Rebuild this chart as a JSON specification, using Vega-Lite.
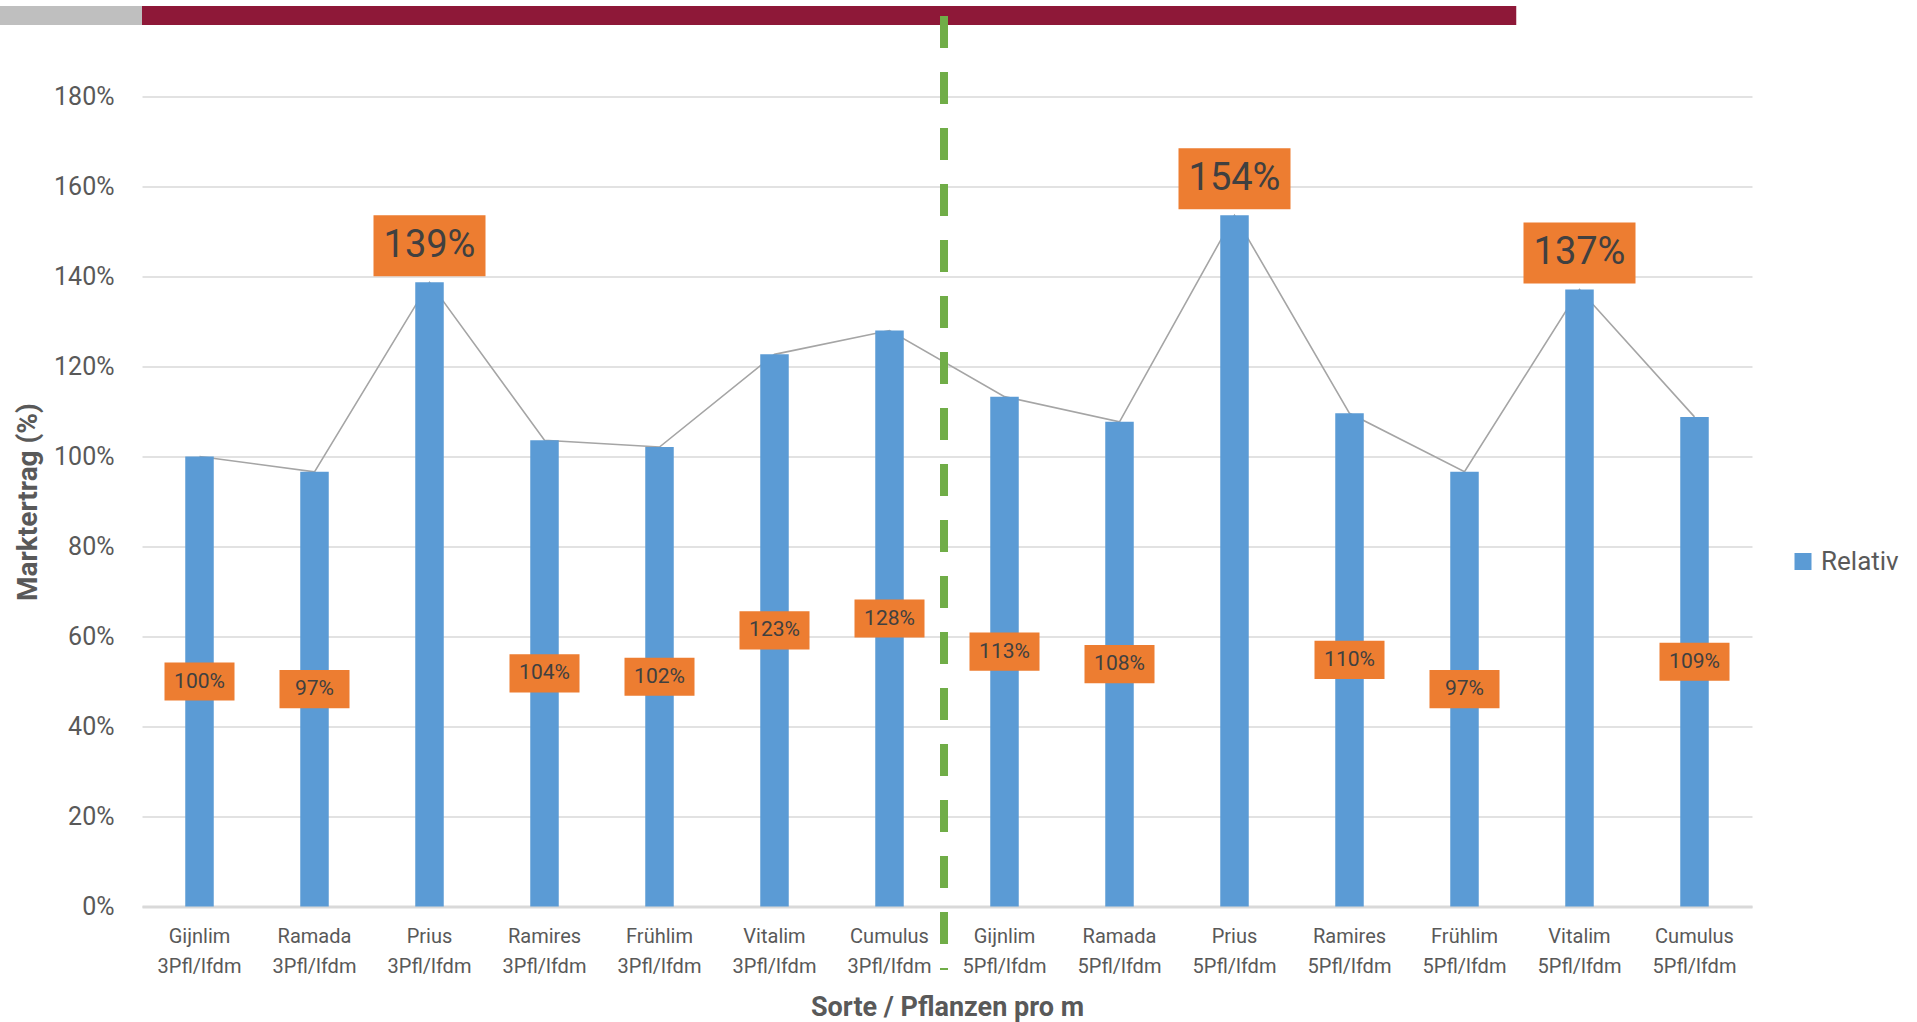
{
  "$schema": "https://vega.github.io/schema/vega-lite/v6.json",
  "width": 1610,
  "height": 810,
  "autosize": {"type": "none"},
  "padding": {"left": 142, "top": 96.5, "right": 165, "bottom": 115.5},
  "background": "white",
  "config": {
    "view": {"stroke": null},
    "font": "Roboto",
    "axis": {"labelFont": "Roboto", "titleFont": "Roboto", "labelColor": "#595959", "titleColor": "#595959"}
  },
  "data": {
    "values": [
      {"Kategorie": "Gijnlim 3Pfl/lfdm", "Relativ": 1.0},
      {"Kategorie": "Ramada 3Pfl/lfdm", "Relativ": 0.966},
      {"Kategorie": "Prius 3Pfl/lfdm", "Relativ": 1.387},
      {"Kategorie": "Ramires 3Pfl/lfdm", "Relativ": 1.036},
      {"Kategorie": "Frühlim 3Pfl/lfdm", "Relativ": 1.021},
      {"Kategorie": "Vitalim 3Pfl/lfdm", "Relativ": 1.227},
      {"Kategorie": "Cumulus 3Pfl/lfdm", "Relativ": 1.28},
      {"Kategorie": "Gijnlim 5Pfl/lfdm", "Relativ": 1.133},
      {"Kategorie": "Ramada 5Pfl/lfdm", "Relativ": 1.077},
      {"Kategorie": "Prius 5Pfl/lfdm", "Relativ": 1.536},
      {"Kategorie": "Ramires 5Pfl/lfdm", "Relativ": 1.096},
      {"Kategorie": "Frühlim 5Pfl/lfdm", "Relativ": 0.966},
      {"Kategorie": "Vitalim 5Pfl/lfdm", "Relativ": 1.371},
      {"Kategorie": "Cumulus 5Pfl/lfdm", "Relativ": 1.088}
    ]
  },
  "resolve": {"scale": {"x": "independent", "y": "independent"}},
  "layer": [
    {
      "mark": {"type": "line", "color": "#A5A5A5", "strokeWidth": 1.6},
      "encoding": {
        "x": {"field": "Kategorie", "type": "nominal", "sort": null, "axis": null},
        "y": {"field": "Relativ", "type": "quantitative", "scale": {"domain": [0, 1.8]}, "axis": null}
      }
    },
    {
      "mark": {"type": "bar", "width": 28.5},
      "encoding": {
        "x": {
          "field": "Kategorie", "type": "nominal", "sort": null,
          "axis": {
            "title": "Sorte / Pflanzen pro m",
            "labelExpr": "split(datum.label, ' ')",
            "labelAngle": 0,
            "labelFontSize": 20,
            "labelLineHeight": 29.5,
            "labelPadding": 20,
            "ticks": false,
            "domainColor": "#D9D9D9",
            "domainWidth": 3,
            "titleFontSize": 27,
            "titleFontWeight": "bold",
            "titlePadding": 18
          }
        },
        "y": {
          "field": "Relativ", "type": "quantitative",
          "scale": {"domain": [0, 1.8]},
          "axis": {
            "title": "Marktertrag (%)",
            "values": [0, 0.2, 0.4, 0.6, 0.8, 1.0, 1.2, 1.4, 1.6, 1.8],
            "format": ".0%",
            "domain": false,
            "ticks": false,
            "grid": true,
            "gridColor": "#D9D9D9",
            "gridWidth": 1.5,
            "labelFontSize": 25,
            "labelPadding": 28,
            "titleFontSize": 28,
            "titleFontWeight": "bold",
            "titlePadding": 11
          }
        },
        "color": {
          "datum": "Relativ",
          "scale": {"range": ["#5B9BD5"]},
          "legend": {
            "title": null,
            "orient": "none",
            "legendX": 1648,
            "legendY": 452,
            "symbolType": "square",
            "symbolSize": 289,
            "symbolStrokeWidth": 0,
            "labelFontSize": 26,
            "labelFont": "Roboto",
            "labelColor": "#595959",
            "labelOffset": 5,
            "padding": 0
          }
        }
      }
    },
    {
      "mark": {"type": "point", "shape": "M-1,-0.545L1,-0.545L1,0.545L-1,0.545Z", "size": 4900, "filled": true, "color": "#ED7D31", "strokeWidth": 0},
      "encoding": {
        "x": {"field": "Kategorie", "type": "nominal", "sort": null, "axis": null},
        "y": {"field": "Relativ", "type": "quantitative", "scale": {"domain": [0, 3.6]}, "axis": null},
        "opacity": {"condition": {"test": "datum.Relativ < 1.35", "value": 1}, "value": 0}
      }
    },
    {
      "mark": {"type": "text", "fontSize": 21, "color": "#404040", "baseline": "middle", "align": "center", "font": "Roboto"},
      "encoding": {
        "x": {"field": "Kategorie", "type": "nominal", "sort": null, "axis": null},
        "y": {"field": "Relativ", "type": "quantitative", "scale": {"domain": [0, 3.6]}, "axis": null},
        "text": {"field": "Relativ", "type": "quantitative", "format": ".0%"},
        "opacity": {"condition": {"test": "datum.Relativ < 1.35", "value": 1}, "value": 0}
      }
    },
    {
      "mark": {"type": "point", "shape": "M-1,-0.545L1,-0.545L1,0.545L-1,0.545Z", "size": 12544, "filled": true, "color": "#ED7D31", "strokeWidth": 0, "yOffset": -36.5},
      "encoding": {
        "x": {"field": "Kategorie", "type": "nominal", "sort": null, "axis": null},
        "y": {"field": "Relativ", "type": "quantitative", "scale": {"domain": [0, 1.8]}, "axis": null},
        "opacity": {"condition": {"test": "datum.Relativ >= 1.35", "value": 1}, "value": 0}
      }
    },
    {
      "mark": {"type": "text", "fontSize": 38, "color": "#404040", "baseline": "middle", "align": "center", "font": "Roboto", "yOffset": -36.5},
      "encoding": {
        "x": {"field": "Kategorie", "type": "nominal", "sort": null, "axis": null},
        "y": {"field": "Relativ", "type": "quantitative", "scale": {"domain": [0, 1.8]}, "axis": null},
        "text": {"field": "Relativ", "type": "quantitative", "format": ".0%"},
        "opacity": {"condition": {"test": "datum.Relativ >= 1.35", "value": 1}, "value": 0}
      }
    },
    {
      "data": {"values": [{}]},
      "mark": {"type": "rect", "color": "#BFBFBF"},
      "encoding": {
        "x": {"datum": -1.235, "type": "quantitative", "scale": {"domain": [0, 14]}, "axis": null},
        "x2": {"datum": 0},
        "y": {"datum": 2.001, "type": "quantitative", "scale": {"domain": [0, 1.8]}, "axis": null},
        "y2": {"datum": 1.959}
      }
    },
    {
      "data": {"values": [{}]},
      "mark": {"type": "rect", "color": "#8E1838"},
      "encoding": {
        "x": {"datum": 0, "type": "quantitative", "scale": {"domain": [0, 14]}, "axis": null},
        "x2": {"datum": 11.95},
        "y": {"datum": 2.001, "type": "quantitative", "scale": {"domain": [0, 1.8]}, "axis": null},
        "y2": {"datum": 1.959}
      }
    },
    {
      "data": {"values": [{}]},
      "mark": {"type": "rule", "color": "#70AD47", "strokeWidth": 8, "strokeDash": [32, 24]},
      "encoding": {
        "x": {"datum": 6.974, "type": "quantitative", "scale": {"domain": [0, 14]}, "axis": null},
        "y": {"datum": 1.979, "type": "quantitative", "scale": {"domain": [0, 1.8]}, "axis": null},
        "y2": {"datum": -0.141}
      }
    }
  ]
}
